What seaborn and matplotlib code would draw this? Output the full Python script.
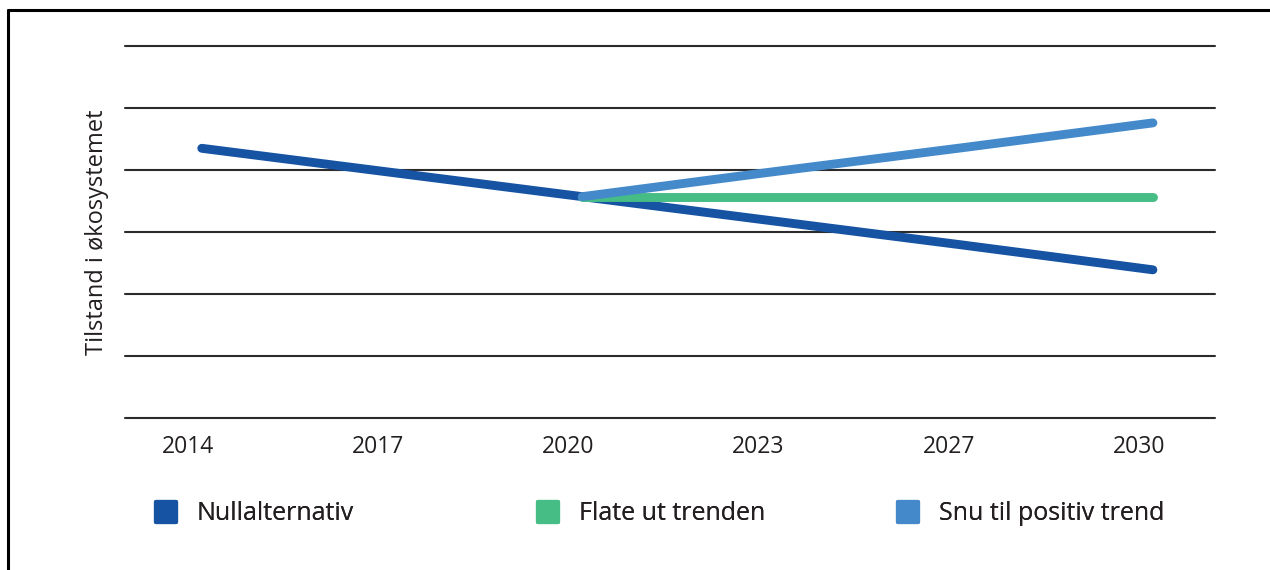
import matplotlib
matplotlib.use("Agg")
import matplotlib.pyplot as plt
import matplotlib.transforms as mtransforms
from matplotlib.lines import Line2D
from matplotlib.markers import MarkerStyle
import seaborn as sns
import pandas as pd

years = ["2014", "2017", "2020", "2023", "2027", "2030"]
series_names = ["Nullalternativ", "Flate ut trenden", "Snu til positiv trend"]
null_vals = [4.35, 3.96, 3.57, 3.18, 2.79, 2.39]
flat_vals = [None, None, 3.57, 3.57, 3.57, 3.57]
pos_vals = [None, None, 3.57, 3.97, 4.36, 4.76]
colors = ["#1753a3", "#45bd85", "#448acb"]
ylabel = "Tilstand i økosystemet"

rows = []
for name, vals in zip(series_names, [null_vals, flat_vals, pos_vals]):
    for i, v in enumerate(vals):
        if v is not None:
            rows.append({"x": i, "value": v, "serie": name})
df = pd.DataFrame(rows)

sns.set_theme(style="white")
plt.rcParams["font.family"] = ["Open Sans", "DejaVu Sans"]
txt = "#231f20"

fig = plt.figure(figsize=(12.7, 5.7), dpi=100)
ax = fig.add_axes([125/1270, 1-418/570, (1215-125)/1270, (418-46)/570])

sns.lineplot(data=df, x="x", y="value", hue="serie", hue_order=series_names,
             palette=colors, linewidth=6.4, ax=ax, legend=False, sort=True)
shift = mtransforms.ScaledTranslation(14/100, 0, fig.dpi_scale_trans)
for ln in ax.get_lines():
    ln.set_solid_capstyle("round")
    ln.set_zorder(3)
    ln.set_transform(ln.get_transform() + shift)

ax.set_ylim(0, 6)
ax.set_xlim(-0.33, 5.40)
for yv in range(0, 7):
    ax.axhline(yv, color="#2b2b2b", lw=1.5, zorder=1, clip_on=False)
ax.set_yticks([])
ax.set_xticks(range(len(years)))
ax.set_xticklabels(years, fontsize=16.5, color=txt)
ax.tick_params(axis="x", length=0, pad=12)
ax.set_xlabel("")
ax.set_ylabel(ylabel, fontsize=17, color=txt)
ax.yaxis.set_label_coords((109-125)/(1215-125), 0.5)
for s in ax.spines.values():
    s.set_visible(False)

# legend entries
handle_x = [153, 535, 895]
for name, c, hx in zip(series_names, colors, handle_x):
    h = Line2D([], [], linestyle="none", marker=MarkerStyle("s", joinstyle="round"),
               markersize=14, markerfacecolor=c, markeredgecolor=c, markeredgewidth=3)
    leg = fig.legend([h], [name], loc="center left",
                     bbox_to_anchor=(hx/1270, 1-514/570), frameon=False,
                     fontsize=18, handlelength=1.0, handletextpad=0.75,
                     borderaxespad=0, borderpad=0)
    for t in leg.get_texts():
        t.set_color(txt)
    fig.add_artist(leg)

# outer frame (left and top)
fig.add_artist(Line2D([8/1270, 8/1270], [0, 1-10/570], color="black", lw=2.2, transform=fig.transFigure))
fig.add_artist(Line2D([8/1270, 1], [1-10/570, 1-10/570], color="black", lw=2.2, transform=fig.transFigure))

fig.savefig("out.png", dpi=100, facecolor="white")
